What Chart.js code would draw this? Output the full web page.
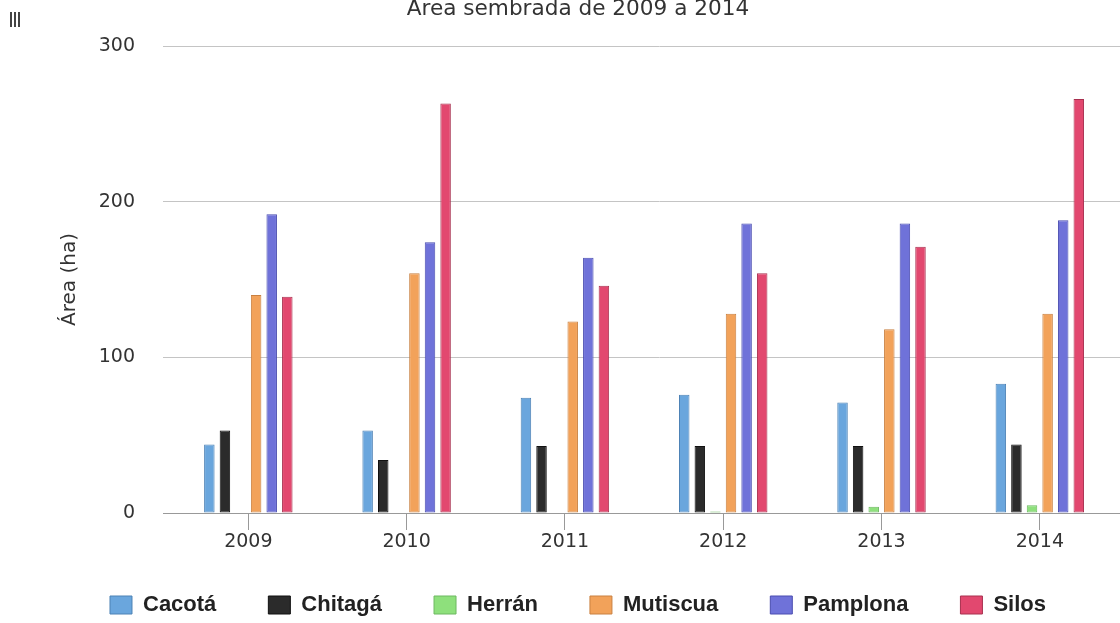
<!DOCTYPE html>
<html>
<head>
<meta charset="utf-8">
<title>Área sembrada de 2009 a 2014</title>
<script src="https://cdn.jsdelivr.net/npm/chart.js@4.4.1/dist/chart.umd.min.js"></script>
<style>
  html, body { margin: 0; padding: 0; background: #fff; }
  body { width: 1120px; height: 623px; overflow: hidden; position: relative; }
  #wrap { position: absolute; left: 0; top: -7px; width: 1166px; height: 633px; }
  #menu { position: absolute; left: 10px; top: 12px; width: 10px; height: 15px;
          background: repeating-linear-gradient(90deg, #444 0 2px, transparent 2px 4px); }
</style>
</head>
<body>
<div id="menu"></div>
<div id="wrap"><canvas id="areaChart" width="1166" height="633"></canvas></div>
<script>
/* datos */
const years = [2009, 2010, 2011, 2012, 2013, 2014];
const municipios = ["Cacotá", "Chitagá", "Herrán", "Mutiscua", "Pamplona", "Silos"];

const cacota   = [44, 53, 74, 76, 71, 83];
const chitaga  = [53, 34, 43, 43, 43, 44];
const herran   = [0, 0, 0, 1, 4, 5];
const mutiscua = [140, 154, 123, 128, 118, 128];
const pamplona = [192, 174, 164, 186, 186, 188];
const silos    = [139, 263, 146, 154, 171, 266];

const yTicks = [0, 100, 200, 300];

/* colores */
const fills   = ["#6aa6dd", "#2b2b2b", "#8ee07c", "#f2a25a", "#6f72d9", "#e2486f"];
const borders = ["#4d82b5", "#111111", "#6cb860", "#c98040", "#4a4db0", "#a8304f"];

const seriesValues = [cacota, chitaga, herran, mutiscua, pamplona, silos];

const datasets = municipios.map((name, k) => ({
  label: name,
  data: years.map((yr, i) => ({ x: yr, y: seriesValues[k][i] })),
  backgroundColor: fills[k],
  borderColor: borders[k],
  borderWidth: 1,
  borderSkipped: false,
}));

const tickFont = { family: "DejaVu Sans", size: 19 };

new Chart(document.getElementById("areaChart"), {
  type: "bar",
  data: { datasets: datasets },
  options: {
    responsive: false,
    animation: false,
    devicePixelRatio: 1,
    layout: { padding: { left: 0, right: 10, top: 0, bottom: 0 } },
    datasets: {
      bar: { categoryPercentage: 0.591, barPercentage: 0.673 },
    },
    plugins: {
      tooltip: { enabled: false },
      title: {
        display: true,
        text: "Área sembrada de 2009 a 2014",
        color: "#333",
        font: { family: "DejaVu Sans", size: 21.6, weight: "normal" },
        padding: { top: 3, bottom: 24.1 },
      },
      legend: {
        position: "bottom",
        labels: {
          boxWidth: 22,
          boxHeight: 18,
          padding: 52,
          color: "#222",
          font: { family: "Liberation Sans", size: 22, weight: "bold" },
        },
      },
    },
    scales: {
      x: {
        type: "linear",
        offset: false,
        min: 2008.461,
        max: 2014.734,
        afterBuildTicks: (s) => { s.ticks = years.map((v) => ({ value: v })); },
        // el eje se encoge para dejar sitio a la leyenda; las etiquetas se
        // dibujan con mirror (sin recorte) y padding negativo bajo la linea
        afterFit: (s) => { s.height = 29; },
        grid: { offset: false, drawOnChartArea: false, tickLength: 17, color: "#999" },
        border: { color: "#999" },
        ticks: {
          mirror: true,
          padding: -40.9,
          color: "#333",
          font: tickFont,
          maxRotation: 0,
          callback: (v) => String(v),
        },
      },
      y: {
        min: 0,
        max: 300,
        afterBuildTicks: (s) => { s.ticks = yTicks.map((v) => ({ value: v })); },
        afterFit: (s) => { s.width = 163; },
        grid: { color: "#c4c4c4", drawTicks: false },
        border: { display: false },
        ticks: { padding: 28, color: "#333", font: tickFont },
        title: {
          display: true,
          text: "Área (ha)",
          color: "#333",
          font: { family: "DejaVu Sans", size: 20 },
          padding: { top: 58, bottom: 0 },
        },
      },
    },
  },
});
</script>
</body>
</html>
